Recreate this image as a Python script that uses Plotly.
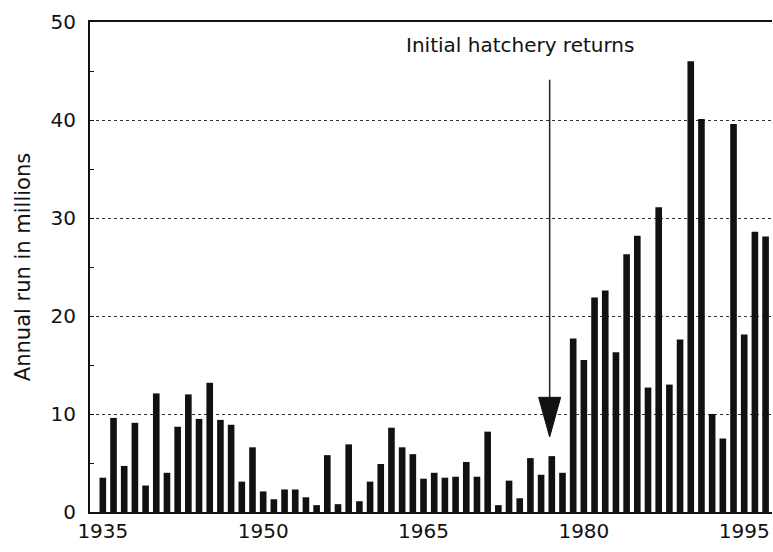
import plotly.graph_objects as go

years = list(range(1935, 1998))
runs = [3.5, 9.6, 4.7, 9.1, 2.7, 12.1, 4.0, 8.7, 12.0, 9.5,
        13.2, 9.4, 8.9, 3.1, 6.6, 2.1, 1.3, 2.3, 2.3, 1.5,
        0.7, 5.8, 0.8, 6.9, 1.1, 3.1, 4.9, 8.6, 6.6, 5.9,
        3.4, 4.0, 3.5, 3.6, 5.1, 3.6, 8.2, 0.7, 3.2, 1.4,
        5.5, 3.8, 5.7, 4.0, 17.7, 15.5, 21.9, 22.6, 16.3, 26.3,
        28.2, 12.7, 31.1, 13.0, 17.6, 46.0, 40.1, 10.0, 7.5, 39.6,
        18.1, 28.6, 28.1]
x_ticks = [1935, 1950, 1965, 1980, 1995]
y_ticks = [0, 10, 20, 30, 40, 50]

annotation_text = "Initial hatchery returns"
arrow_year = 1976.8
arrow_top = 44.1
arrow_head_top = 11.7
arrow_tip = 7.65
arrow_half_w = 1.03

FONT = "DejaVu Sans"

fig = go.Figure()
fig.add_trace(go.Bar(x=years, y=runs, width=0.62,
                     marker=dict(color="#111111", line=dict(width=0))))

fig.add_shape(type="line", x0=arrow_year, x1=arrow_year, y0=arrow_top, y1=arrow_head_top,
              line=dict(color="#222222", width=1.5))
fig.add_shape(type="path",
              path=f"M {arrow_year - arrow_half_w} {arrow_head_top} L {arrow_year + arrow_half_w} {arrow_head_top} L {arrow_year} {arrow_tip} Z",
              fillcolor="#111111", line=dict(color="#111111", width=1))

fig.add_annotation(x=1974.0, y=47.65, text=annotation_text, showarrow=False,
                   font=dict(family=FONT, size=20, color="#111111"))

fig.update_layout(
    width=773, height=552,
    margin=dict(l=90, r=1, t=22, b=40),
    paper_bgcolor="white", plot_bgcolor="white",
    showlegend=False,
    font=dict(family=FONT, size=20, color="#111111"),
    xaxis=dict(range=[1933.8, 1997.6], tickvals=x_ticks, ticks="", showgrid=False,
               showline=True, linecolor="#111111", linewidth=2, mirror=True,
               zeroline=False, automargin=False, tickfont=dict(family=FONT, size=20)),
    yaxis=dict(range=[0, 50], tickvals=y_ticks, showgrid=True,
               gridcolor="#333333", griddash="dot", gridwidth=1,
               showline=True, linecolor="#111111", linewidth=2,
               ticks="inside", ticklen=4, tickcolor="#111111",
               minor=dict(tickvals=[5, 15, 25, 35, 45], ticks="inside", ticklen=4,
                          tickcolor="#111111", showgrid=False),
               zeroline=False, ticklabelstandoff=8, automargin=False,
               title=dict(text="Annual run in millions", font=dict(family=FONT, size=21), standoff=14),
               tickfont=dict(family=FONT, size=20)),
)

fig.write_html("out.html", config={"displayModeBar": False},
               post_script="document.body.style.margin='0';document.body.style.overflow='hidden';")
